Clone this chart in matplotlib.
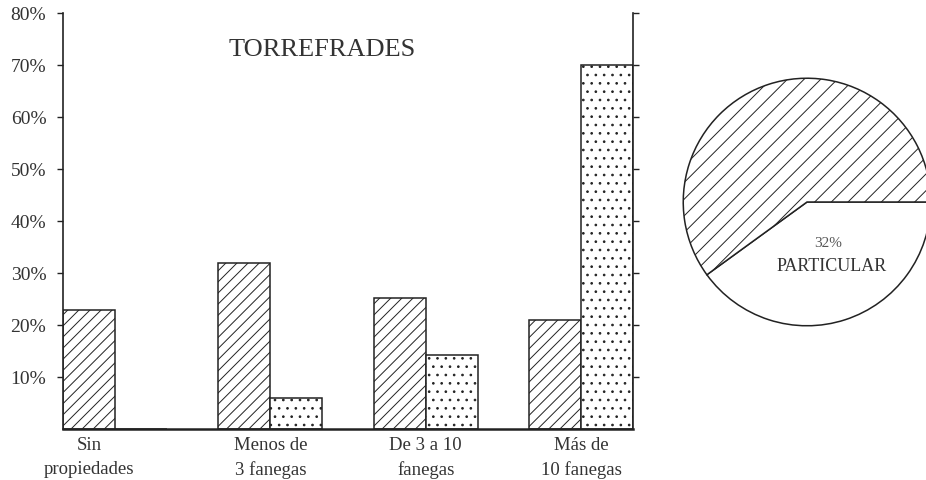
import numpy as np
import matplotlib
matplotlib.use("Agg")
from matplotlib import pyplot as plt

# data
categories = ["Sin\npropiedades", "Menos de\n3 fanegas", "De 3 a 10\nfanegas", "Más de\n10 fanegas"]
hatched_vals = [22.8, 32.0, 25.1, 21.0]
dotted_vals = [0.0, 6.0, 14.3, 70.0]
y_ticks = [10, 20, 30, 40, 50, 60, 70, 80]
y_labels = ["10%", "20%", "30%", "40%", "50%", "60%", "70%", "80%"]
pie_vals = [40, 60]  # white slice as drawn, labelled 32%
pie_label = "32%"
pie_name = "PARTICULAR"
title = "TORREFRADES"

plt.rcParams['font.family'] = ['Liberation Serif', 'DejaVu Serif']
plt.rcParams['hatch.linewidth'] = 0.7
plt.rcParams['hatch.color'] = '#222222'
ink = '#222222'
txt = '#333333'

fig = plt.figure(figsize=(9.26, 4.81), dpi=100)
ax = fig.add_axes([63/926, 1-430/481, 570/926, 416/481])

group = np.arange(len(categories)) * 3
ax.bar(group - 0.5, hatched_vals, width=1, facecolor='white', edgecolor=ink,
       linewidth=1.1, hatch='///')
ax.bar(group + 0.5, dotted_vals, width=1, facecolor='white', edgecolor=ink,
       linewidth=1.1, hatch='..')

ax.set_xlim(-1, group[-1] + 1)
ax.set_ylim(0, 80)
ax.spines['top'].set_visible(False)
for s in ['left', 'right']:
    ax.spines[s].set_linewidth(1.2)
    ax.spines[s].set_color(ink)
ax.spines['bottom'].set_linewidth(1.8)
ax.spines['bottom'].set_color(ink)

ax.set_yticks(y_ticks)
ax.set_yticklabels(y_labels, fontsize=14, color=txt)
ax.tick_params(axis='y', which='both', direction='out', length=4, width=1,
               color=ink, right=True, pad=8)

# first label sits under its single bar, the others under the pair
tick_pos = [group[0] - 0.5] + list(group[1:])
ax.set_xticks(tick_pos)
ax.set_xticklabels(categories, fontsize=13.5, color=txt, linespacing=1.55)
ax.tick_params(axis='x', length=0, pad=5)

ax.text(0.455, 0.914, title, transform=ax.transAxes, ha='center', va='center',
        fontsize=19, color=txt)

# pie
r = 125
cx, cy = 807, 203
pax = fig.add_axes([(cx - r)/926, 1-(cy + r)/481, 2*r/926, 2*r/481])
wedges, _ = pax.pie(pie_vals, startangle=0, counterclock=False,
                    colors=['white', 'white'],
                    wedgeprops=dict(edgecolor=ink, linewidth=1.1))
wedges[1].set_hatch('//')
pax.set_xlim(-1.01, 1.01)
pax.set_ylim(-1.01, 1.01)
for w in wedges:
    w.set_clip_on(False)
pax.text(0.17, -0.33, pie_label, ha='center', va='center', fontsize=11, color='#555555')
pax.text(0.2, -0.51, pie_name, ha='center', va='center', fontsize=13, color=txt)

fig.savefig("out.png", dpi=100)
